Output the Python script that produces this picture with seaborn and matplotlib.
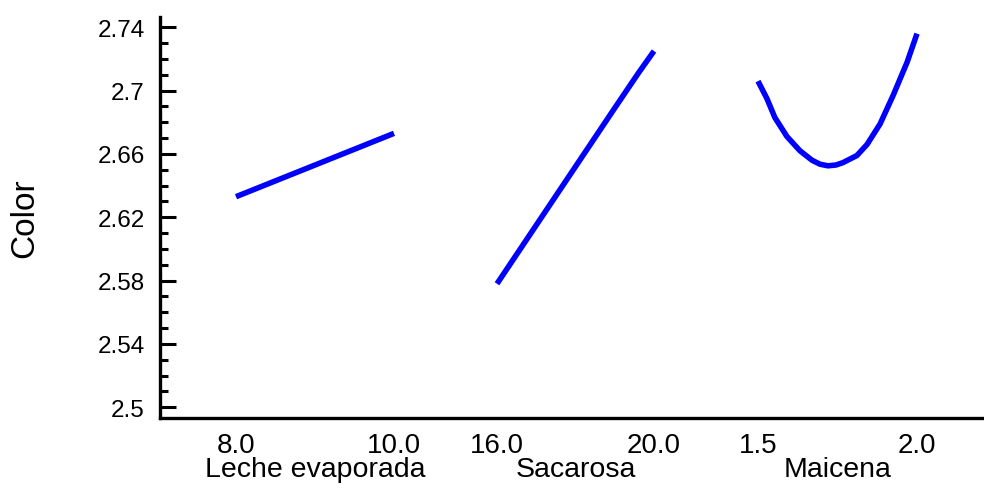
import matplotlib
matplotlib.use("Agg")
import matplotlib.pyplot as plt
import numpy as np
import pandas as pd
import seaborn as sns
from matplotlib.ticker import FixedLocator, MultipleLocator, FormatStrFormatter

# ---------------- data ----------------
factors = ["Leche evaporada", "Sacarosa", "Maicena"]

leche_x = [8.0, 8.5, 9.0, 9.5, 10.0]
leche_y = [2.633, 2.643, 2.653, 2.663, 2.673]

sacarosa_x = [16.0, 17.0, 18.0, 19.0, 19.6, 20.0]
sacarosa_y = [2.578, 2.615, 2.652, 2.689, 2.711, 2.725]

maicena_x = [1.5, 1.528, 1.553, 1.591, 1.632, 1.670, 1.695, 1.720,
             1.745, 1.767, 1.811, 1.843, 1.884, 1.925, 1.969, 2.0]
maicena_y = [2.706, 2.695, 2.683, 2.671, 2.662, 2.656, 2.6535, 2.6525,
             2.653, 2.6545, 2.659, 2.666, 2.679, 2.697, 2.718, 2.736]

low_labels = ["8.0", "16.0", "1.5"]
high_labels = ["10.0", "20.0", "2.0"]

y_ticks = [2.5, 2.54, 2.58, 2.62, 2.66, 2.7, 2.74]
y_label = "Color"

# ---------------- style ----------------
sns.set_style("white")
plt.rcParams["font.family"] = ["Liberation Sans", "DejaVu Sans"]

W, H = 984, 489
fig = plt.figure(figsize=(W / 100, H / 100), dpi=100)


def fx(px):
    return px / W


def fy(py):
    return 1 - py / H


ylim = (2.4932, 2.7465)
top_px, bot_px = 18, 419

# main axes: y axis and bottom baseline
ax = fig.add_axes([fx(160), fy(bot_px), fx(984) - fx(160), fy(top_px) - fy(bot_px)])
ax.set_ylim(*ylim)
ax.set_xlim(0, 1)
ax.set_xticks([])
for s in ["top", "right"]:
    ax.spines[s].set_visible(False)
for s in ["left", "bottom"]:
    ax.spines[s].set_linewidth(2.4)
    ax.spines[s].set_color("black")
ax.yaxis.set_major_locator(FixedLocator(y_ticks))
ax.yaxis.set_minor_locator(MultipleLocator(0.01))
ax.yaxis.set_major_formatter(FormatStrFormatter("%g"))
ax.tick_params(axis="y", which="major", direction="in", length=11.5, width=2.2,
               labelsize=17.5, pad=11, colors="black", left=True)
ax.tick_params(axis="y", which="minor", direction="in", length=5.8, width=2.2,
               left=True, colors="black")
ax.set_ylabel(y_label, fontsize=24, color="black")
ax.yaxis.set_label_coords(-0.145, 0.5)
ax.patch.set_visible(False)

# one transparent axes per factor, each with its own x scale
segments = [(236, 394), (497, 654), (758, 917)]
xs = [leche_x, sacarosa_x, maicena_x]
ys = [leche_y, sacarosa_y, maicena_y]

for name, (p0, p1), x, y, lo, hi in zip(factors, segments, xs, ys, low_labels, high_labels):
    sub = fig.add_axes([fx(p0), fy(bot_px), fx(p1) - fx(p0), fy(top_px) - fy(bot_px)])
    df = pd.DataFrame({"x": x, "y": y})
    sns.lineplot(data=df, x="x", y="y", ax=sub, color="#0000FF", linewidth=4.0,
                 estimator=None, sort=False, clip_on=False,
                 solid_capstyle="butt", solid_joinstyle="round")
    sub.set_xlim(x[0], x[-1])
    sub.set_ylim(*ylim)
    sub.patch.set_visible(False)
    for s in sub.spines.values():
        s.set_visible(False)
    sub.set_yticks([])
    sub.set_ylabel("")
    sub.set_xticks([x[0], x[-1]])
    sub.set_xticklabels([lo, hi])
    sub.tick_params(axis="x", length=0, labelsize=20, pad=10, colors="black")
    sub.set_xlabel(name, fontsize=20.5, labelpad=-1, color="black")

fig.savefig("out.png", dpi=100)
